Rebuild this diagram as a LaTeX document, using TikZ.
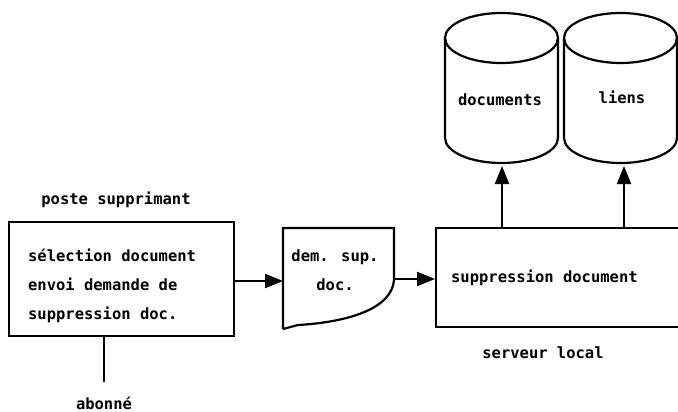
\documentclass[tikz,border=0pt]{standalone}
\usepackage{fontspec}
\setmainfont{DejaVu Sans Mono}
\usetikzlibrary{arrows.meta}
\begin{document}
\begin{tikzpicture}[x=1pt,y=-1pt,
  line width=2.2pt,
  txt/.style={font=\fontsize{15.5}{29}\selectfont\bfseries, inner sep=0pt},
  boxx/.style={draw, inner sep=0pt},
  arr/.style={-{Triangle[length=18pt,width=14pt]}}]
\clip (0,0) rectangle (678,412);
% left process box
\node[boxx, minimum width=225pt, minimum height=114pt] (sel) at (121.5,279) {};
\node[txt, align=left, anchor=west] (seltext) at (27,286) {sélection document\\envoi demande de\\suppression doc.};
\node[txt] (poste) at (116,200) {poste supprimant};
\coordinate (abline) at (104,382);
\node[txt, anchor=north] (abonne) at (104,396) {abonné};
\draw (sel.south -| abline) -- (abline);
% document shape
\coordinate (dtl) at (283,228);
\coordinate (dtr) at (394,228);
\coordinate (dmr) at (394,280);
\coordinate (dbl) at (283,329);
\draw (dbl) -- (dtl) -- (dtr) -- (dmr) .. controls (392,308) and (350,322) .. (298,325) -- (dbl);
\node[txt, align=center] (dem) at (335,270) {dem. sup.\\doc.};
\coordinate (demin) at (283,281);
\coordinate (demout) at (394,279);
% right box
\node[boxx, minimum width=300pt, minimum height=99pt, anchor=north west] (srv) at (435,227) {};
\node[txt, anchor=west] (srvtext) at (450,278) {suppression document};
\node[txt] (local) at (543,353) {serveur local};
% cylinders
\draw (445,38) -- (445,138) arc[start angle=180, end angle=360, x radius=56.5pt, y radius=25pt] -- (558,38);
\draw (501.5,38) ellipse [x radius=56.5pt, y radius=25pt];
\coordinate (docbot) at (502,166);
\node[txt] (docs) at (500,100) {documents};
\draw (564,38) -- (564,138) arc[start angle=180, end angle=360, x radius=56.5pt, y radius=25pt] -- (677,38);
\draw (620.5,38) ellipse [x radius=56.5pt, y radius=25pt];
\coordinate (lienbot) at (624,166);
\node[txt] (liens) at (622,97) {liens};
% connectors
\draw[arr] (sel.east |- demin) -- (demin);
\draw[arr] (demout) -- (srv.west |- demout);
\draw[arr] (srv.north -| docbot) -- (docbot);
\draw[arr] (srv.north -| lienbot) -- (lienbot);
\end{tikzpicture}
\end{document}
